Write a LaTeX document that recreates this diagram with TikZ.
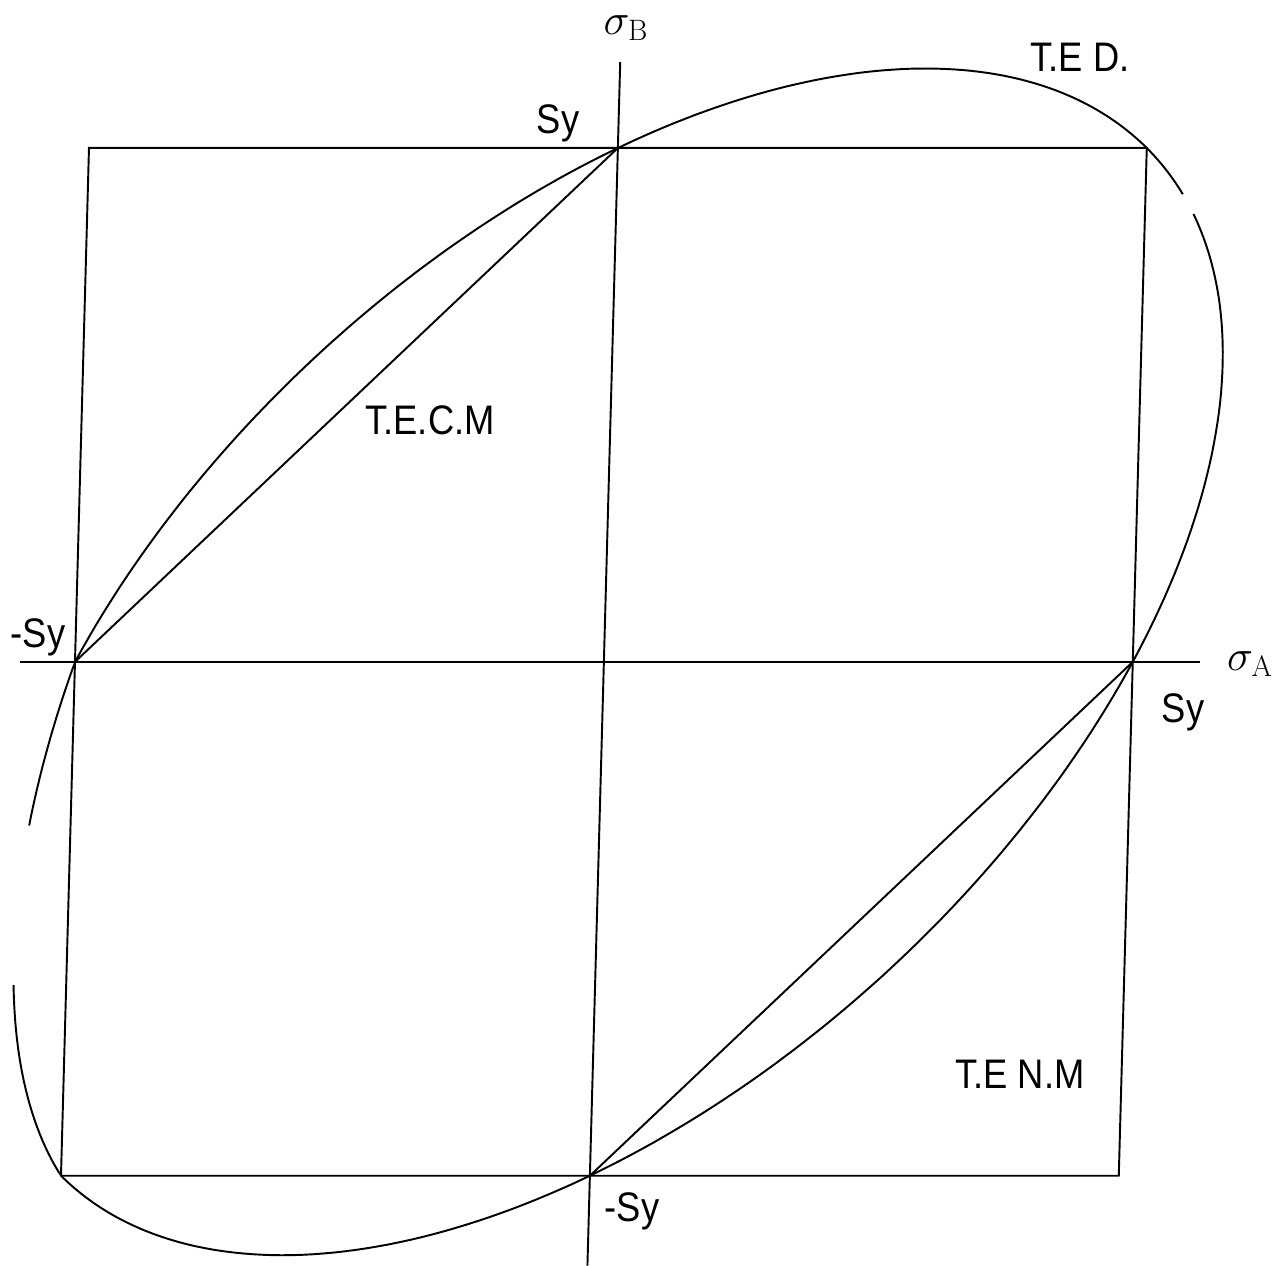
\documentclass[tikz,border=0pt]{standalone}
\usepackage{fontspec}
\newfontfamily\lblfont[FakeStretch=0.88]{Liberation Sans}

\begin{document}
\begin{tikzpicture}[
  x=0.02cm,y=-0.02cm,
  line/.style={line width=1.1pt},
  axis/.style={line width=1.5pt},
  lbl/.style={font=\lblfont\fontsize{23.5}{28}\selectfont,inner sep=0pt},
  sig/.style={font=\fontsize{24}{28}\selectfont,inner sep=0pt},
  declare function={
    tedA(\t)=cos(\t)-sin(\t)/sqrt(3);
    tedB(\t)=cos(\t)+sin(\t)/sqrt(3);
    tedX(\t)=tedA(\t)+0.35*max(0,-1-tedA(\t));
  }
]
  \useasboundingbox (0,0) rectangle (1276,1266);

  % stress plane, unit = Sy
  \begin{scope}[shift={(12.08cm,-13.24cm)},x={(10.58cm,0cm)},y={(0.28cm,10.28cm)}]
    \coordinate (O) at (0,0);
    \coordinate (sA) at (1,0);
    \coordinate (msA) at (-1,0);
    \coordinate (sB) at (0,1);
    \coordinate (msB) at (0,-1);
    \coordinate (c1) at (1,1);
    \coordinate (c2) at (-1,1);
    \coordinate (c3) at (-1,-1);
    \coordinate (c4) at (1,-1);
    \coordinate (axL) at (-1.104,0);
    \coordinate (axR) at (1.127,0);
    \coordinate (axT) at (0,1.167);
    \coordinate (axD) at (0,-1.175);

    \draw[axis] (axL) -- (axR);
    \draw[line] (axD) -- (axT);
    % Tresca square and hexagon sides
    \draw[line] (c1) -- (c2) -- (c3) -- (c4) -- cycle;
    \draw[line] (msA) -- (sB);
    \draw[line] (sA) -- (msB);
    % von Mises ellipse
    \draw[line] plot[domain=-8:136,samples=150,variable=\t] ({tedX(\t)},{tedB(\t)});
    \draw[line] plot[domain=153:349,samples=180,variable=\t] ({tedX(\t)},{tedB(\t)});
  \end{scope}

  \node[sig] (sigB) at (626,28) {$\sigma_{\mathrm{B}}$};
  \node[sig] (sigA) at (1250,664) {$\sigma_{\mathrm{A}}$};
  \node[lbl] (lSyB) at (558,123) {Sy};
  \node[lbl] (lmSyA) at (38,637) {-Sy};
  \node[lbl] (lSyA) at (1183,712) {Sy};
  \node[lbl] (lmSyB) at (632,1211) {-Sy};
  \node[lbl] (lTED) at (1080,57) {T.E D.};
  \node[lbl] (lTECM) at (430,420) {T.E.C.M};
  \node[lbl] (lTENM) at (1020,1074) {T.E N.M};
\end{tikzpicture}
\end{document}
